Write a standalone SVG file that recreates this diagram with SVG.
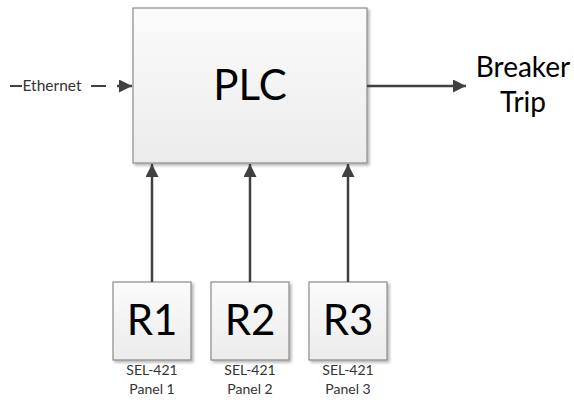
<svg xmlns="http://www.w3.org/2000/svg" width="574" height="400" viewBox="0 0 574 400">
<defs>
<linearGradient id="g" x1="0" y1="0" x2="0" y2="1">
<stop offset="0" stop-color="#fbfbfb"/>
<stop offset="1" stop-color="#ececec"/>
</linearGradient>
<filter id="sh" x="-10%" y="-10%" width="130%" height="130%">
<feGaussianBlur in="SourceAlpha" stdDeviation="1.5"/>
<feOffset dx="2" dy="2" result="b"/>
<feComponentTransfer><feFuncA type="linear" slope="0.3"/></feComponentTransfer>
<feMerge><feMergeNode/><feMergeNode in="SourceGraphic"/></feMerge>
</filter>
<marker id="ah" viewBox="0 0 10 10" refX="10" refY="5" markerWidth="13" markerHeight="13" markerUnits="userSpaceOnUse" orient="auto">
<path d="M0,0 L10,5 L0,10 z" fill="#404040"/>
</marker>
</defs>
<style>
.box{fill:url(#g);stroke:#8a8a8a;stroke-width:1.2;filter:url(#sh)}
.t{font-family:Lato,"Open Sans",sans-serif;fill:#000;text-anchor:middle}
.s{font-family:Lato,"Open Sans",sans-serif;fill:#333;text-anchor:middle;font-size:14px}
.c{stroke:#404040;stroke-width:2.5;fill:none}
</style>
<g id="PLC">
<rect class="box" x="133" y="8" width="234" height="155"/>
<text class="t" x="250" y="100" font-size="42">PLC</text>
</g>
<g id="R1">
<rect class="box" x="113" y="282" width="78" height="78"/>
<text class="t" x="152" y="335" font-size="42">R1</text>
<text class="s" x="152" y="375">SEL-421</text>
<text class="s" x="152" y="394">Panel 1</text>
</g>
<g id="R2">
<rect class="box" x="211" y="282" width="78" height="78"/>
<text class="t" x="250" y="335" font-size="42">R2</text>
<text class="s" x="250" y="375">SEL-421</text>
<text class="s" x="250" y="394">Panel 2</text>
</g>
<g id="R3">
<rect class="box" x="309" y="282" width="78" height="78"/>
<text class="t" x="348" y="335" font-size="42">R3</text>
<text class="s" x="348" y="375">SEL-421</text>
<text class="s" x="348" y="394">Panel 3</text>
</g>
<g id="BreakerTrip">
<text class="t" x="523" y="77" font-size="28">Breaker</text>
<text class="t" x="523" y="112" font-size="28">Trip</text>
</g>
<g id="connectors">
<line class="c" x1="152" y1="282" x2="152" y2="164" marker-end="url(#ah)"/>
<line class="c" x1="250" y1="282" x2="250" y2="164" marker-end="url(#ah)"/>
<line class="c" x1="348" y1="282" x2="348" y2="164" marker-end="url(#ah)"/>
<line class="c" x1="367" y1="86" x2="466" y2="86" marker-end="url(#ah)"/>
<line stroke="#404040" stroke-width="2" x1="10" y1="86" x2="22" y2="86"/>
<line stroke="#404040" stroke-width="2" x1="91" y1="86" x2="106" y2="86"/>
<line class="c" stroke-width="2" x1="117" y1="86" x2="132" y2="86" marker-end="url(#ah)"/>
<text x="52" y="91" font-family="Lato,'Open Sans',sans-serif" font-size="15.5" fill="#333" text-anchor="middle">Ethernet</text>
</g>
</svg>
